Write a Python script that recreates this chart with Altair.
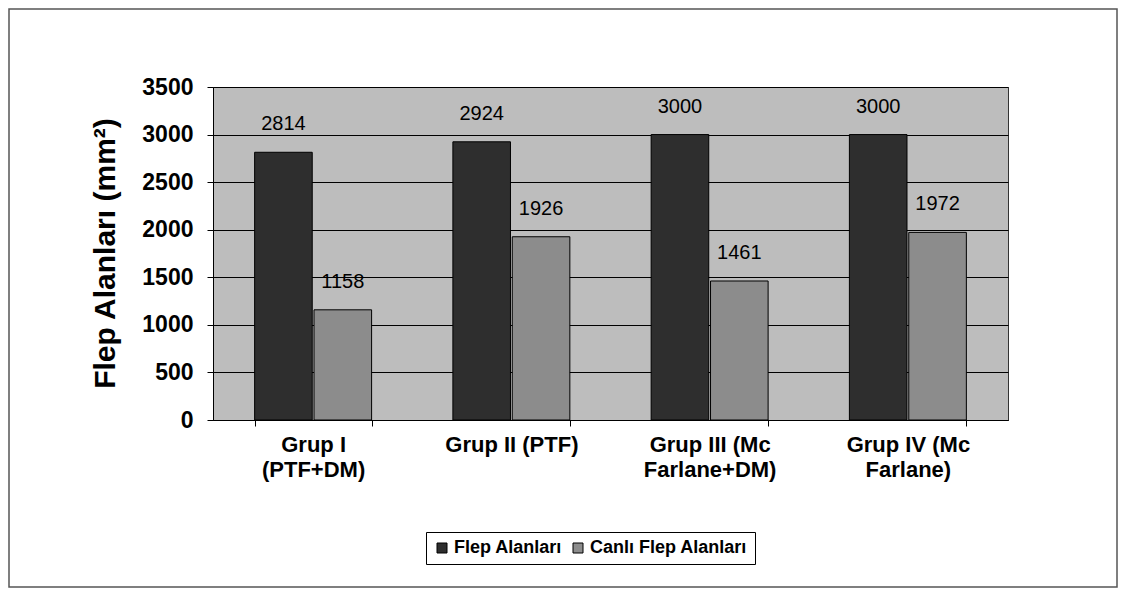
import altair as alt
import pandas as pd

groups = ["Grup I|(PTF+DM)", "Grup II (PTF)", "Grup III (Mc|Farlane+DM)", "Grup IV (Mc|Farlane)"]
series = ["Flep Alanları", "Canlı Flep Alanları"]
flep = [2814, 2924, 3000, 3000]
canli = [1158, 1926, 1461, 1972]
y_ticks = [0, 500, 1000, 1500, 2000, 2500, 3000, 3500]
colors = ["#2e2e2e", "#8c8c8c"]

rows = []
for g, a, b in zip(groups, flep, canli):
    rows.append({"grup": g, "seri": series[0], "deger": a})
    rows.append({"grup": g, "seri": series[1], "deger": b})
df = pd.DataFrame(rows)

FONT = "Liberation Sans"

x_enc = alt.X("grup:N", sort=groups,
              scale=alt.Scale(paddingInner=0.41, paddingOuter=0.21),
              axis=alt.Axis(title=None, labelAngle=0, labelExpr="split(datum.label, '|')",
                            labelFont=FONT, labelFontSize=22, labelFontWeight="bold",
                            labelColor="black", labelLineHeight=25, labelPadding=8,
                            tickBand="extent", tickSize=6, tickColor="black",
                            domainColor="black", grid=False, labelBaseline="top"))
xo_enc = alt.XOffset("seri:N", sort=series, scale=alt.Scale(paddingInner=0.03))
y_enc = alt.Y("deger:Q",
              scale=alt.Scale(domain=[0, 3500], nice=False),
              axis=alt.Axis(values=y_ticks, format="d", title="Flep Alanları (mm²)",
                            titleFont=FONT, titleFontSize=30, titleFontWeight="bold",
                            titleColor="black", titleX=-108, titleY=166, titleAngle=270,
                            titleAlign="center", titleBaseline="middle",
                            labelFont=FONT, labelFontSize=23, labelFontWeight="bold",
                            labelColor="black", labelPadding=14, tickSize=6,
                            tickColor="black", domainColor="black",
                            grid=True, gridColor="black", gridWidth=1, gridOpacity=1))

bars = alt.Chart(df).mark_bar(stroke="black", strokeWidth=1).encode(
    x=x_enc, xOffset=xo_enc, y=y_enc,
    color=alt.Color("seri:N", sort=series,
                    scale=alt.Scale(domain=series, range=colors),
                    legend=alt.Legend(title=None, orient="none", legendX=213, legendY=445,
                                      direction="horizontal", symbolType="square",
                                      symbolSize=100, symbolStrokeColor="black",
                                      symbolStrokeWidth=1, labelFont=FONT, labelFontSize=18,
                                      labelFontWeight="bold", labelColor="black",
                                      labelLimit=0, strokeColor="black", fillColor="white",
                                      padding=7, columnPadding=6, labelOffset=3,
                                      symbolOpacity=1))
)

labels = alt.Chart(df).mark_text(dy=-28, font=FONT, fontSize=20, color="black",
                                 baseline="middle").encode(
    x=alt.X("grup:N", sort=groups), xOffset=alt.XOffset("seri:N", sort=series),
    y="deger:Q", text="deger:Q"
)

frame = alt.Chart(alt.Data(values=[{"f": 1}])).mark_rect(
    fill=None, stroke="#555555", strokeWidth=1.5
).encode(x=alt.value(-204), x2=alt.value(904), y=alt.value(-78), y2=alt.value(500))

chart = alt.layer(bars, labels, frame).properties(
    width=795, height=333,
    autosize=alt.AutoSizeParams(type="none"),
    padding={"left": 205, "top": 79, "right": 110, "bottom": 170},
    background="white",
).configure_view(fill="#bdbdbd", stroke="#333333")

chart.save("out.html", embed_options={"renderer": "svg", "actions": False})
